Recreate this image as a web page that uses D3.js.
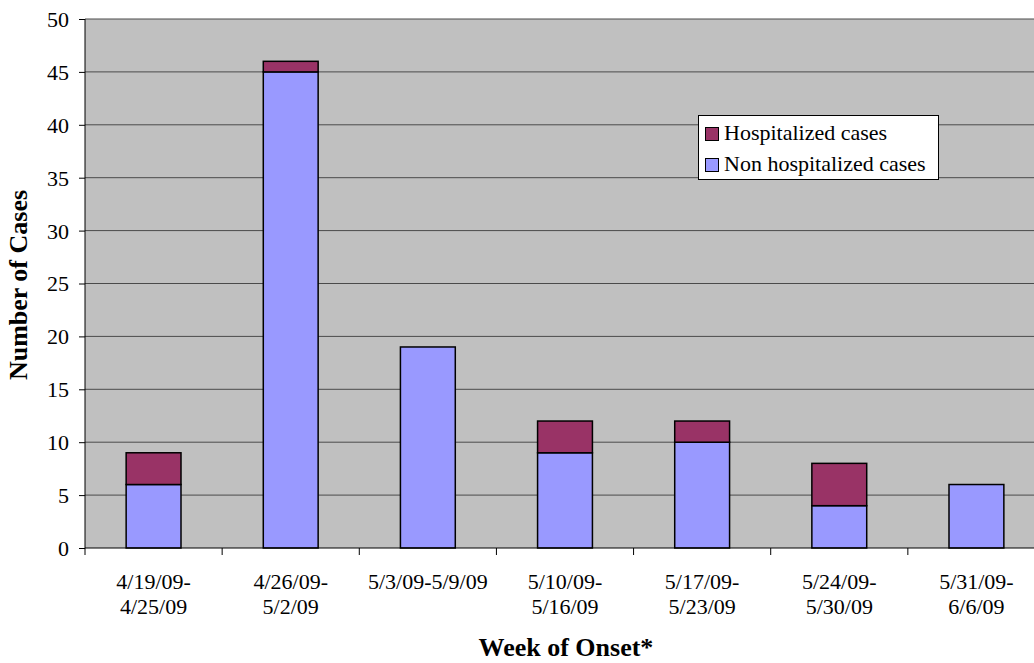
<!DOCTYPE html>
<html><head><meta charset="utf-8">
<script src="https://cdn.jsdelivr.net/npm/d3@7"></script>
<style>body{margin:0;background:#fff}svg{display:block}svg text{font-family:"Liberation Serif","Times New Roman",serif !important;fill:#000}</style>
</head><body>
<svg id="c" width="1034" height="663"></svg>
<script>
const categories = [["4/19/09-","4/25/09"],["4/26/09-","5/2/09"],["5/3/09-5/9/09"],["5/10/09-","5/16/09"],["5/17/09-","5/23/09"],["5/24/09-","5/30/09"],["5/31/09-","6/6/09"]];
const nonHospitalized = [6,45,19,9,10,4,6];
const hospitalized = [3,1,0,3,2,4,0];
const yTicks = [0,5,10,15,20,25,30,35,40,45,50];
const seriesNames = ["Non hospitalized cases","Hospitalized cases"];
const colors = {"Non hospitalized cases":"#9999FF","Hospitalized cases":"#993366"};

const svg = d3.select("#c");
const L=85, T=19, W=960, B=548;
const x = d3.scaleBand().domain(d3.range(categories.length)).range([L,L+W]).paddingInner(0.6).paddingOuter(0.3);
const xb = d3.scaleBand().domain(d3.range(categories.length)).range([L,L+W]);
const y = d3.scaleLinear().domain([0,50]).range([B,T]);

svg.append("rect").attr("x",L).attr("y",T).attr("width",W).attr("height",B-T).attr("fill","#C0C0C0");
svg.append("g").selectAll("line").data(yTicks.filter(d=>d>0)).join("line")
  .attr("x1",L).attr("x2",L+W).attr("y1",d=>y(d)).attr("y2",d=>y(d)).attr("stroke","#4a4a4a").attr("stroke-width",1);

const rows = categories.map((c,i)=>({i, "Non hospitalized cases":nonHospitalized[i], "Hospitalized cases":hospitalized[i]}));
const stack = d3.stack().keys(seriesNames)(rows);
stack.forEach(s=>{
  svg.append("g").selectAll("rect").data(s.filter(d=>d[1]-d[0]>0)).join("rect")
    .attr("x",d=>x(d.data.i)).attr("width",x.bandwidth())
    .attr("y",d=>y(d[1])).attr("height",d=>y(d[0])-y(d[1]))
    .attr("fill",colors[s.key]).attr("stroke","#000").attr("stroke-width",1.5);
});

// y axis
const ya = svg.append("g").attr("transform",`translate(${L},0)`).call(d3.axisLeft(y).tickValues(yTicks).tickSize(6).tickPadding(10));
ya.select(".domain").attr("stroke","#000").attr("d",`M0,${T}V${B}`);
ya.selectAll(".tick line").attr("stroke","#000");
ya.selectAll("text").attr("font-size",22).attr("dy","0.34em");

// x axis
const xa = svg.append("g").attr("transform",`translate(0,${B})`);
xa.append("line").attr("x1",L).attr("x2",L+W).attr("stroke","#000");
xa.selectAll(".tk").data(d3.range(categories.length+1)).join("line")
  .attr("x1",d=>L+d*xb.step()).attr("x2",d=>L+d*xb.step()).attr("y1",0).attr("y2",7).attr("stroke","#000");
const lbl = xa.selectAll(".lb").data(categories).join("text")
  .attr("x",(d,i)=>xb(i)+xb.bandwidth()/2).attr("y",41).attr("text-anchor","middle").attr("font-size",22);
lbl.selectAll("tspan").data(d=>d).join("tspan").attr("x",function(){return this.parentNode.getAttribute("x");})
  .attr("dy",(d,i)=>i?25:0).text(d=>d);

// titles
svg.append("text").attr("transform","translate(27,285) rotate(-90)").attr("text-anchor","middle")
  .attr("font-size",26).attr("font-weight","bold").text("Number of Cases");
svg.append("text").attr("x",566).attr("y",656).attr("text-anchor","middle")
  .attr("font-size",26).attr("font-weight","bold").text("Week of Onset*");

// legend
const lg = svg.append("g");
lg.append("rect").attr("x",698.5).attr("y",115.5).attr("width",240).attr("height",64).attr("fill","#fff").attr("stroke","#000");
["Hospitalized cases","Non hospitalized cases"].forEach((k,i)=>{
  const top = 127 + i*31;
  lg.append("rect").attr("x",705.5).attr("y",top+0.5).attr("width",13).attr("height",13).attr("fill",colors[k]).attr("stroke","#000");
  lg.append("text").attr("x",724).attr("y",top+13).attr("font-size",22).text(k);
});
</script>
</body></html>
